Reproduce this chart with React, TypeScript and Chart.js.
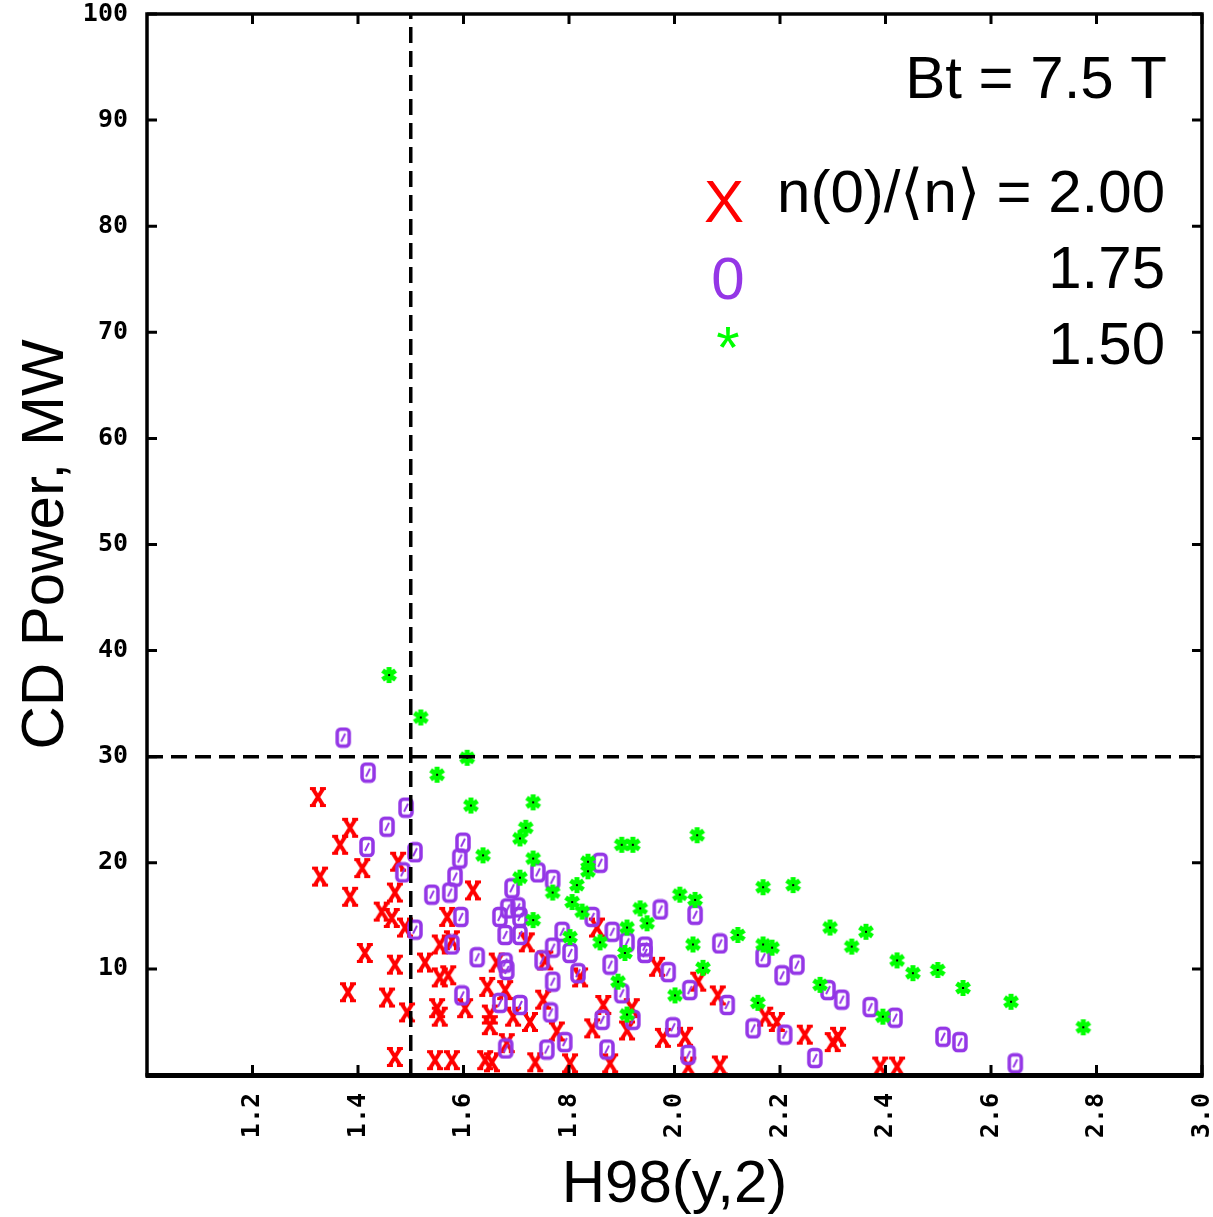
import { useEffect, useRef } from "react";
import { Chart, registerables } from "chart.js";

Chart.register(...registerables);

// ---------- axis data ----------
const xRange = [1.0, 3.0];
const yRange = [0, 100];
const xTickValues = [1.2, 1.4, 1.6, 1.8, 2.0, 2.2, 2.4, 2.6, 2.8, 3.0];
const xTickLabels = ["1.2", "1.4", "1.6", "1.8", "2.0", "2.2", "2.4", "2.6", "2.8", "3.0"];
const yTickValues = [10, 20, 30, 40, 50, 60, 70, 80, 90, 100];
const yTickLabels = ["10", "20", "30", "40", "50", "60", "70", "80", "90", "100"];

const xTitle = "H98(y,2)";
const yTitle = "CD Power, MW";
const fieldLabel = "Bt = 7.5 T";
const seriesLabels = ["n(0)/\u27E8n\u27E9 = 2.00", "1.75", "1.50"];
const seriesSymbols = ["X", "0", "*"];

// threshold lines
const h98Threshold = 1.5;
const powerThreshold = 30;

// ---------- series: n(0)/<n> = 2.00 (red X) ----------
const peak200H98 = [
  1.324, 1.328, 1.366, 1.385, 1.385, 1.408, 1.413, 1.381, 1.445, 1.464,
  1.470, 1.470, 1.455, 1.476, 1.489, 1.493, 1.470, 1.527, 1.555, 1.578,
  1.569, 1.618, 1.555, 1.571, 1.550, 1.555, 1.603, 1.546, 1.578, 1.641,
  1.654, 1.663, 1.645, 1.679, 1.650, 1.650, 1.694, 1.726, 1.720, 1.682,
  1.736, 1.755, 1.751, 1.777, 1.802, 1.821, 1.853, 1.865, 1.844, 1.878,
  1.919, 1.910, 1.967, 1.978, 2.020, 2.045, 2.026, 2.082, 2.086, 2.172,
  2.194, 2.247, 2.300, 2.310, 2.390, 2.422,
];
const peak200Power = [
  26.2, 18.7, 21.7, 23.3, 16.8, 19.5, 11.5, 7.8, 15.4, 14.8,
  17.2, 10.4, 7.3, 20.1, 13.9, 5.9, 1.7, 10.6, 12.3, 12.7,
  14.9, 17.4, 9.2, 9.4, 6.3, 5.5, 6.3, 1.4, 1.4, 1.4,
  1.2, 10.6, 8.3, 8.0, 5.7, 4.7, 5.5, 5.0, 12.5, 3.0,
  1.2, 10.8, 7.1, 4.1, 1.1, 9.2, 13.9, 6.6, 4.4, 1.1,
  6.3, 4.2, 10.2, 3.5, 3.6, 8.8, 0.8, 7.5, 0.9, 5.5,
  5.0, 3.8, 3.1, 3.6, 0.8, 0.8,
];

// ---------- series: n(0)/<n> = 1.75 (purple 0) ----------
const peak175H98 = [
  1.372, 1.419, 1.491, 1.455, 1.417, 1.508, 1.599, 1.593, 1.485, 1.584,
  1.741, 1.540, 1.574, 1.692, 1.508, 1.595, 1.669, 1.684, 1.703, 1.707,
  1.578, 1.679, 1.707, 1.626, 1.679, 1.682, 1.749, 1.597, 1.669, 1.707,
  1.765, 1.680, 1.758, 1.859, 1.769, 1.973, 2.039, 1.844, 1.882, 1.787,
  1.910, 2.086, 1.944, 1.769, 1.802, 1.944, 2.168, 1.988, 2.029, 1.769,
  1.878, 1.900, 2.100, 2.149, 1.863, 1.921, 1.792, 1.872, 1.997, 2.026,
  2.204, 2.232, 2.291, 2.317, 2.371, 2.418, 2.509, 2.541, 2.209, 2.266,
  2.646, 1.817,
];
const peak175Power = [
  31.8, 28.5, 25.2, 23.4, 21.5, 21.0, 21.9, 20.4, 19.1, 18.7,
  19.1, 17.0, 17.2, 17.6, 13.7, 14.9, 14.9, 15.7, 15.8, 14.9,
  12.3, 13.2, 13.2, 11.1, 10.6, 9.9, 10.8, 7.5, 6.8, 6.6,
  5.9, 2.5, 2.4, 20.0, 18.4, 15.6, 15.1, 14.9, 13.5, 13.5,
  12.5, 12.4, 12.1, 12.0, 11.5, 11.5, 11.1, 9.7, 8.0, 8.8,
  10.4, 7.7, 6.6, 4.4, 5.2, 5.2, 3.1, 2.4, 4.5, 1.9,
  9.4, 10.4, 8.0, 7.1, 6.4, 5.4, 3.6, 3.1, 3.8, 1.6,
  1.1, 9.6,
];

// ---------- series: n(0)/<n> = 1.50 (green *) ----------
const peak150H98 = [
  1.459, 1.519, 1.607, 1.550, 1.614, 1.732, 1.718, 1.707, 1.637, 1.732,
  1.707, 1.732, 2.043, 1.900, 1.921, 1.836, 1.815, 1.769, 2.168, 2.010,
  2.039, 1.806, 1.825, 1.935, 1.948, 1.910, 2.120, 2.035, 2.168, 1.802,
  1.859, 1.906, 2.185, 2.054, 1.893, 2.001, 2.158, 1.910, 2.225, 2.295,
  2.363, 2.336, 2.422, 2.452, 2.499, 2.547, 2.638, 2.276, 2.395, 2.775,
  1.836,
];
const peak150Power = [
  37.7, 33.7, 29.9, 28.3, 25.4, 25.7, 23.3, 22.3, 20.7, 20.4,
  18.6, 14.6, 22.6, 21.7, 21.7, 20.1, 17.9, 17.2, 17.7, 17.0,
  16.5, 16.3, 15.4, 15.7, 14.3, 13.9, 13.2, 12.3, 12.3, 13.0,
  12.5, 11.5, 12.0, 10.1, 8.8, 7.5, 6.8, 5.7, 17.9, 13.9,
  13.5, 12.1, 10.8, 9.6, 9.9, 8.2, 6.9, 8.5, 5.5, 4.5,
  19.2,
];

const RED = "#ff0000";
const PURPLE = "#9436e6";
const GREEN = "#00ff00";
const SANS = "'Liberation Sans', Arial, sans-serif";
const MONO = "'DejaVu Sans Mono', monospace";

function zip(xs: number[], ys: number[]) {
  return xs.map((x, i) => ({ x, y: ys[i] }));
}

function makeCanvas(w: number, h: number, draw: (c: CanvasRenderingContext2D) => void) {
  const c = document.createElement("canvas");
  c.width = w;
  c.height = h;
  const ctx = c.getContext("2d")!;
  draw(ctx);
  return c;
}

function redMarker() {
  return makeCanvas(18, 22, (c) => {
    c.strokeStyle = RED;
    c.lineWidth = 4;
    c.beginPath();
    c.moveTo(4, 3); c.lineTo(14, 19);
    c.moveTo(14, 3); c.lineTo(4, 19);
    c.stroke();
    c.lineWidth = 3;
    c.beginPath();
    c.moveTo(1, 2.5); c.lineTo(7, 2.5);
    c.moveTo(11, 2.5); c.lineTo(17, 2.5);
    c.moveTo(1, 19.5); c.lineTo(7, 19.5);
    c.moveTo(11, 19.5); c.lineTo(17, 19.5);
    c.stroke();
  });
}

function purpleMarker() {
  return makeCanvas(18, 22, (c) => {
    c.strokeStyle = PURPLE;
    c.lineWidth = 3.5;
    c.beginPath();
    c.roundRect(3, 2.5, 12, 17, 3.5);
    c.stroke();
    c.lineWidth = 2;
    c.beginPath();
    c.moveTo(11, 7); c.lineTo(7, 15);
    c.stroke();
  });
}

function greenMarker() {
  return makeCanvas(18, 18, (c) => {
    c.strokeStyle = GREEN;
    c.lineWidth = 5;
    c.beginPath();
    c.moveTo(9, 1); c.lineTo(9, 17);
    c.moveTo(2.5, 4.5); c.lineTo(15.5, 13.5);
    c.moveTo(15.5, 4.5); c.lineTo(2.5, 13.5);
    c.stroke();
    c.fillStyle = "#000";
    c.fillRect(8, 8, 2, 2);
  });
}

const framePlugin = {
  id: "gnuFrame",
  afterDatasetsDraw(chart: any) {
    const { ctx, chartArea: a, scales } = chart;
    const xs = scales.x;
    const ys = scales.y;
    ctx.save();
    ctx.strokeStyle = "#000";
    ctx.lineCap = "butt";
    ctx.lineWidth = 3;
    const tick = 10;
    ctx.beginPath();
    for (const v of xTickValues) {
      const px = xs.getPixelForValue(v);
      ctx.moveTo(px, a.bottom);
      ctx.lineTo(px, a.bottom - tick);
      ctx.moveTo(px, a.top);
      ctx.lineTo(px, a.top + tick);
    }
    for (const v of yTickValues) {
      const py = ys.getPixelForValue(v);
      ctx.moveTo(a.left, py);
      ctx.lineTo(a.left + tick, py);
      ctx.moveTo(a.right, py);
      ctx.lineTo(a.right - tick, py);
    }
    ctx.stroke();
    ctx.lineWidth = 3.5;
    ctx.strokeRect(a.left, a.top, a.right - a.left, a.bottom - a.top);
    ctx.lineWidth = 5;
    ctx.beginPath();
    ctx.moveTo(a.left - 1.5, a.bottom + 0.5);
    ctx.lineTo(a.right + 1.5, a.bottom + 0.5);
    ctx.stroke();

    // annotation & legend text
    ctx.font = `60px ${SANS}`;
    ctx.fillStyle = "#000";
    ctx.textAlign = "right";
    ctx.textBaseline = "alphabetic";
    ctx.fillText(fieldLabel, 1167, 98);
    ctx.fillText(seriesLabels[0], 1165, 212);
    ctx.fillText(seriesLabels[1], 1165, 288);
    ctx.fillText(seriesLabels[2], 1165, 364);

    ctx.textAlign = "center";
    ctx.fillStyle = RED;
    ctx.fillText(seriesSymbols[0], 724, 222);
    ctx.fillStyle = PURPLE;
    ctx.fillText(seriesSymbols[1], 728, 299);
    ctx.fillStyle = GREEN;
    ctx.fillText(seriesSymbols[2], 728, 368);
    ctx.restore();
  },
};

export default function App() {
  const ref = useRef<HTMLCanvasElement | null>(null);

  useEffect(() => {
    if (!ref.current) return;
    const tickFont = { family: MONO, size: 25, weight: "bold" as const };
    const chart = new Chart(ref.current, {
      type: "scatter",
      data: {
        datasets: [
          {
            label: seriesLabels[0],
            data: zip(peak200H98, peak200Power),
            pointStyle: redMarker(),
            pointRadius: 9,
            order: 3,
          },
          {
            label: seriesLabels[1],
            data: zip(peak175H98, peak175Power),
            pointStyle: purpleMarker(),
            pointRadius: 9,
            order: 2,
          },
          {
            label: seriesLabels[2],
            data: zip(peak150H98, peak150Power),
            pointStyle: greenMarker(),
            pointRadius: 9,
            order: 1,
          },
          {
            label: "h98 limit",
            type: "line",
            data: [
              { x: h98Threshold, y: yRange[0] },
              { x: h98Threshold, y: yRange[1] },
            ],
            showLine: true,
            borderColor: "#000",
            borderWidth: 3.5,
            borderDash: [16, 8],
            pointRadius: 0,
            order: 0,
          } as any,
          {
            label: "power limit",
            type: "line",
            data: [
              { x: xRange[0], y: powerThreshold },
              { x: xRange[1], y: powerThreshold },
            ],
            showLine: true,
            borderColor: "#000",
            borderWidth: 3.5,
            borderDash: [16, 8],
            pointRadius: 0,
            order: 0,
          } as any,
        ],
      },
      options: {
        animation: false,
        responsive: true,
        maintainAspectRatio: false,
        layout: { padding: { left: 0, top: 14, right: 11, bottom: 0 } },
        plugins: {
          legend: { display: false },
          tooltip: { enabled: false },
        },
        scales: {
          x: {
            type: "linear",
            min: xRange[0],
            max: xRange[1],
            grid: { display: false, drawTicks: false },
            border: { display: false },
            afterBuildTicks: (s: any) => {
              s.ticks = xTickValues.map((v) => ({ value: v }));
            },
            afterFit: (s: any) => {
              s.height = 142;
              s.paddingLeft = 0;
              s.paddingRight = 0;
            },
            ticks: {
              autoSkip: false,
              minRotation: 90,
              maxRotation: 90,
              padding: 18,
              color: "#000",
              font: tickFont,
              callback: (_v: any, i: number) => xTickLabels[i],
            },
            title: {
              display: true,
              text: xTitle,
              color: "#000",
              font: { family: SANS, size: 60, lineHeight: 1 },
              padding: { top: 0, bottom: 2 },
            },
          },
          y: {
            type: "linear",
            min: yRange[0],
            max: yRange[1],
            grid: { display: false, drawTicks: false },
            border: { display: false },
            afterBuildTicks: (s: any) => {
              s.ticks = yTickValues.map((v) => ({ value: v }));
            },
            afterFit: (s: any) => {
              s.width = 147;
              s.paddingTop = 0;
              s.paddingBottom = 0;
            },
            ticks: {
              autoSkip: false,
              padding: 19,
              color: "#000",
              font: tickFont,
              callback: (_v: any, i: number) => yTickLabels[i],
            },
            title: {
              display: true,
              text: yTitle,
              color: "#000",
              font: { family: SANS, size: 60, lineHeight: 1.2 },
              padding: { top: 10, bottom: 0 },
            },
          },
        },
      },
      plugins: [framePlugin],
    });
    return () => chart.destroy();
  }, []);

  return (
    <div style={{ position: "absolute", left: 0, top: 0, width: 1213, height: 1217, background: "#fff" }}>
      <canvas ref={ref} />
    </div>
  );
}
